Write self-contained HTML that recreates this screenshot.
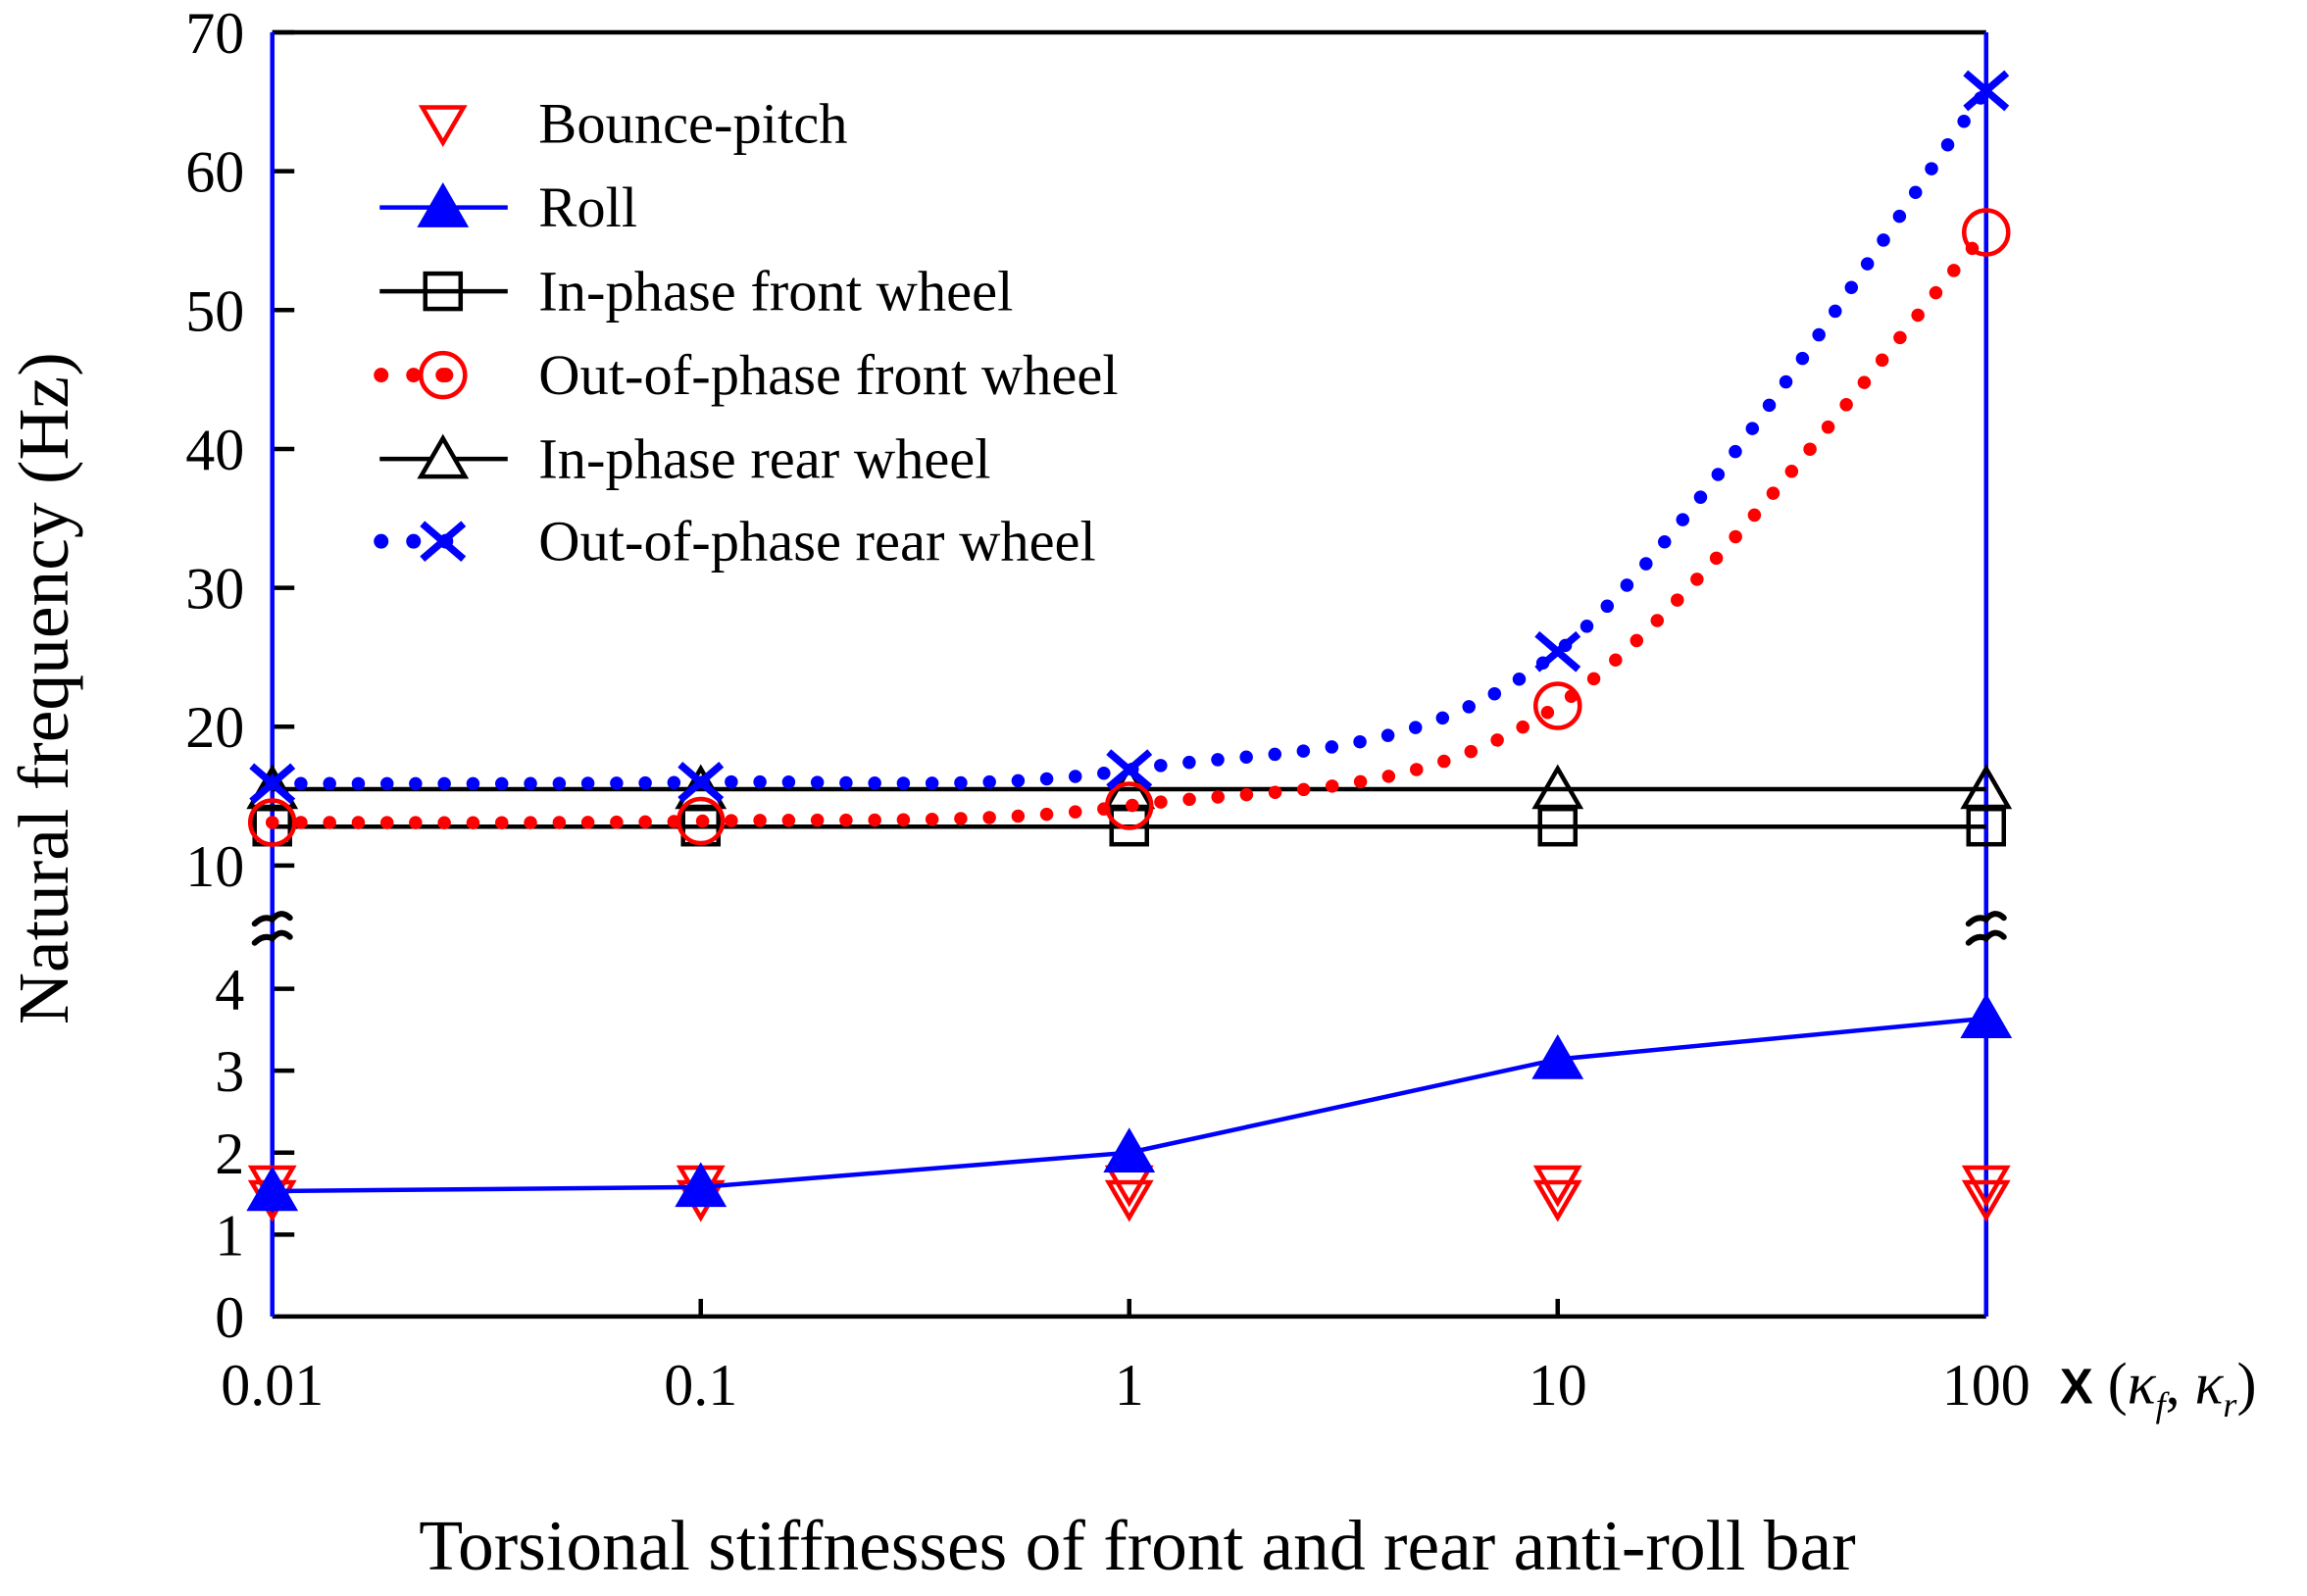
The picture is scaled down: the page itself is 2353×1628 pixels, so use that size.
<!DOCTYPE html>
<html><head><meta charset="utf-8"><style>
html,body{margin:0;padding:0;background:#fff;}
svg{display:block;font-family:"Liberation Serif",serif;}
</style></head><body>
<svg id="chart" width="2353" height="1628" viewBox="0 0 1568 1085" xmlns="http://www.w3.org/2000/svg">
<g id="axes"></g>
<g id="series"></g>
<g id="legend"></g>
<text x="0" y="0" font-size="49" text-anchor="middle" transform="translate(46,468) rotate(-90)">Natural frequency (Hz)</text>
<text x="773" y="1067" font-size="49" text-anchor="middle">Torsional stiffnesses of front and rear anti-roll bar</text>
<text x="1400" y="954" font-size="40"><tspan font-family="Liberation Sans,sans-serif" font-weight="bold" font-size="34">X</tspan> (<tspan font-style="italic">κ</tspan><tspan font-style="italic" font-size="24" dy="9">f</tspan><tspan dy="-9">,  </tspan><tspan font-style="italic">κ</tspan><tspan font-style="italic" font-size="24" dy="9">r</tspan><tspan dy="-9">)</tspan></text>
</svg>
<script>
const xCategories = [0.01, 0.1, 1, 10, 100];
const xTickLabels = ["0.01", "0.1", "1", "10", "100"];
const upperTicks = [10, 20, 30, 40, 50, 60, 70];
const lowerTicks = [0, 1, 2, 3, 4];
const bouncePitchA = [1.62, 1.62, 1.62, 1.62, 1.62];
const bouncePitchB = [1.44, 1.44, 1.44, 1.44, 1.44];
const roll = [1.53, 1.58, 2.0, 3.14, 3.64];
const inPhaseFront = [12.8, 12.8, 12.8, 12.8, 12.8];
const outPhaseFront = [13.1, 13.2, 14.3, 21.5, 55.6];
const inPhaseRear = [15.5, 15.5, 15.5, 15.5, 15.5];
const outPhaseRear = [15.9, 16.0, 16.9, 25.4, 65.8];

const NS = "http://www.w3.org/2000/svg";
const L = 185, R = 1350, T = 22, B = 895;
function xPos(v){ return L + (Math.log10(v) + 2) / 4 * (R - L); }
function yUp(v){ return T + (70 - v) * 9.44; }
function yLow(v){ return B - v * 55.7; }
function mk(tag, attrs, parent){ const e = document.createElementNS(NS, tag); for (const k in attrs) e.setAttribute(k, attrs[k]); parent.appendChild(e); return e; }
const axes = document.getElementById('axes'), series = document.getElementById('series'), legend = document.getElementById('legend');

let e;
e = mk('line', {x1:L, y1:T, x2:R, y2:T, stroke:'#000', 'stroke-width':3}, axes);
 
e = mk('line', {x1:L, y1:B, x2:R, y2:B, stroke:'#000', 'stroke-width':3}, axes);
 
upperTicks.forEach(v => {
  const t = mk('line', {x1:L, y1:yUp(v), x2:L+15, y2:yUp(v), stroke:'#000', 'stroke-width':3}, axes);
   
  const lb = mk('text', {x:166, y:yUp(v)+14, 'font-size':40, 'text-anchor':'end'}, axes); lb.textContent = v;
   
});
lowerTicks.forEach(v => {
  if (v > 0) { const t = mk('line', {x1:L, y1:yLow(v), x2:L+15, y2:yLow(v), stroke:'#000', 'stroke-width':3}, axes);
    }
  const lb = mk('text', {x:166, y:yLow(v)+14, 'font-size':40, 'text-anchor':'end'}, axes); lb.textContent = v;
   
});
xCategories.forEach((c, i) => {
  if (i > 0 && i < 4) { const t = mk('line', {x1:xPos(c), y1:B, x2:xPos(c), y2:B-12, stroke:'#000', 'stroke-width':3}, axes);
    }
  const lb = mk('text', {x:xPos(c), y:955, 'font-size':40, 'text-anchor':'middle'}, axes); lb.textContent = xTickLabels[i];
   
});
e = mk('line', {x1:L, y1:T, x2:L, y2:B, stroke:'#0000ff', 'stroke-width':3}, axes);
 
e = mk('line', {x1:R, y1:T, x2:R, y2:B, stroke:'#0000ff', 'stroke-width':3}, axes);
 
[L, R].forEach(x => {
  const g = mk('g', {fill:'none', stroke:'#000', 'stroke-width':4, 'stroke-linecap':'round'}, axes);
   
  mk('path', {d:`M${x-12},${628} Q${x-6},${622} ${x},${625} Q${x+6},${618} ${x+12},${624}`}, g);
  mk('path', {d:`M${x-12},${641} Q${x-6},${635} ${x},${638} Q${x+6},${631} ${x+12},${637}`}, g);
});

function triDown(x, y, col, p){ return mk('path', {d:`M${x-14},${y-11} L${x+14},${y-11} L${x},${y+13} Z`, fill:'none', stroke:col, 'stroke-width':3}, p); }
function triUp(x, y, col, fill, p){ return mk('path', {d:`M${x-15},${y+12} L${x+15},${y+12} L${x},${y-14} Z`, fill:fill, stroke:col, 'stroke-width':3}, p); }
function square(x, y, p){ return mk('rect', {x:x-12, y:y-12, width:24, height:24, fill:'none', stroke:'#000', 'stroke-width':3}, p); }
function circ(x, y, p, dot){ const g = mk('g', {}, p); mk('circle', {cx:x, cy:y, r:15, fill:'none', stroke:'#ff0000', 'stroke-width':3}, g); if (dot) mk('circle', {cx:x, cy:y, r:5, fill:'#ff0000'}, g); return g; }
function cross(x, y, p){ return mk('path', {d:`M${x-14},${y-12} L${x+14},${y+12} M${x-14},${y+12} L${x+14},${y-12}`, stroke:'#0000ff', 'stroke-width':5}, p); }
function smooth(pts){
  let d = `M${pts[0][0]},${pts[0][1]}`;
  for (let i = 0; i < pts.length - 1; i++) {
    const p0 = pts[Math.max(0,i-1)], p1 = pts[i], p2 = pts[i+1], p3 = pts[Math.min(pts.length-1,i+2)];
    d += ` C${p1[0]+(p2[0]-p0[0])/6},${p1[1]+(p2[1]-p0[1])/6} ${p2[0]-(p3[0]-p1[0])/6},${p2[1]-(p3[1]-p1[1])/6} ${p2[0]},${p2[1]}`;
  }
  return d;
}
const dots = {fill:'none', 'stroke-width':9, 'stroke-linecap':'round', 'stroke-dasharray':'0 19.5'};

e = mk('polyline', {points: xCategories.map((c,i)=>`${xPos(c)},${yUp(inPhaseFront[i])}`).join(' '), fill:'none', stroke:'#000', 'stroke-width':3}, series);
 
e = mk('polyline', {points: xCategories.map((c,i)=>`${xPos(c)},${yUp(inPhaseRear[i])}`).join(' '), fill:'none', stroke:'#000', 'stroke-width':3}, series);
 
xCategories.forEach((c,i) => {
  const m = square(xPos(c), yUp(inPhaseFront[i]), series);
   
  const n = triUp(xPos(c), yUp(inPhaseRear[i]), '#000', 'none', series);
   
});
e = mk('path', Object.assign({d: smooth(xCategories.map((c,i)=>[xPos(c), yUp(outPhaseFront[i])])), stroke:'#ff0000'}, dots), series);
 
e = mk('path', Object.assign({d: smooth(xCategories.map((c,i)=>[xPos(c), yUp(outPhaseRear[i])])), stroke:'#0000ff'}, dots), series);
 
xCategories.forEach((c,i) => {
  const m = circ(xPos(c), yUp(outPhaseFront[i]), series, false);
   
  const n = cross(xPos(c), yUp(outPhaseRear[i]), series);
   
});
xCategories.forEach((c,i) => {
  const a = triDown(xPos(c), yLow(bouncePitchA[i]), '#ff0000', series);
   
  const b = triDown(xPos(c), yLow(bouncePitchB[i]), '#ff0000', series);
   
});
e = mk('polyline', {points: xCategories.map((c,i)=>`${xPos(c)},${yLow(roll[i])}`).join(' '), fill:'none', stroke:'#0000ff', 'stroke-width':3}, series);
 
xCategories.forEach((c,i) => {
  const m = triUp(xPos(c), yLow(roll[i]), '#0000ff', '#0000ff', series);
   
});

const legendLabels = ["Bounce-pitch", "Roll", "In-phase front wheel", "Out-of-phase front wheel", "In-phase rear wheel", "Out-of-phase rear wheel"];
const legendY = [84, 141, 198, 255, 312, 368];
legendLabels.forEach((lab, i) => {
  const g = mk('g', {}, legend);
   
  const y = legendY[i], mx = 301;
  if (i === 1) mk('line', {x1:258, y1:y, x2:345, y2:y, stroke:'#0000ff', 'stroke-width':3}, g);
  if (i === 2 || i === 4) mk('line', {x1:258, y1:y, x2:345, y2:y, stroke:'#000', 'stroke-width':3}, g);
  if (i === 3) mk('path', Object.assign({d:`M259,${y} L325,${y}`, stroke:'#ff0000'}, dots, {'stroke-width':10, 'stroke-dasharray':'0 22'}), g);
  if (i === 5) mk('path', Object.assign({d:`M259,${y} L325,${y}`, stroke:'#0000ff'}, dots, {'stroke-width':10, 'stroke-dasharray':'0 22'}), g);
  if (i === 0) triDown(mx, y, '#ff0000', g);
  if (i === 1) triUp(mx, y, '#0000ff', '#0000ff', g);
  if (i === 2) square(mx, y, g);
  if (i === 3) circ(mx, y, g, true);
  if (i === 4) triUp(mx, y, '#000', '#fff', g);
  if (i === 5) cross(mx, y, g);
  const t = mk('text', {x:366, y:y+13, 'font-size':39}, g); t.textContent = lab;
});
</script>
</body></html>
